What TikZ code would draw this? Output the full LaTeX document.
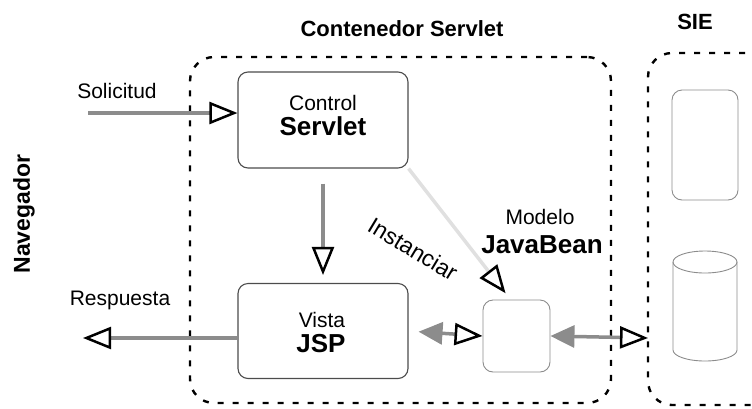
\documentclass[tikz,border=0pt]{standalone}
\usepackage{fontspec}
\setmainfont{Liberation Sans}
\usetikzlibrary{arrows.meta}
\tikzstyle{caja} = [draw=black!70, line width=1.1pt, rounded corners=10pt, inner sep=0pt]
\tikzstyle{tenue} = [draw=black!45, line width=0.9pt, inner sep=0pt]
\tikzstyle{contenedor} = [draw, line width=2.4pt, dash pattern=on 6pt off 9pt, rounded corners=24pt]
\tikzstyle{flecha} = [draw=black!45, line width=3.5pt, -{Triangle[open, length=28pt, width=22pt, line width=2.5pt, color=black]}]
\tikzstyle{doble} = [draw=black!45, line width=3.5pt, {Triangle[length=24pt, width=22pt]}-{Triangle[open, length=28pt, width=22pt, line width=2.5pt, color=black]}]
\tikzstyle{texto} = [font=\fontsize{21}{24}\selectfont, anchor=base, inner sep=0pt]
\tikzstyle{titulo} = [font=\fontsize{22}{26}\selectfont\bfseries, inner sep=0pt]
\tikzstyle{grande} = [font=\fontsize{26}{30}\selectfont\bfseries, anchor=base, inner sep=0pt]

\begin{document}
\begin{tikzpicture}[x=1pt, y=-1pt]
    \useasboundingbox (0,0) rectangle (752,408);

    % contenedor y cajas
    \node[contenedor, minimum width=421pt, minimum height=346pt] (cont) at (400.5,230) {};
    \draw[contenedor] (775,53) -- (648,53) -- (648,405) -- (775,405);

    \node[caja, minimum width=170pt, minimum height=96pt] (ctrl) at (323,120) {};
    \node[caja, minimum width=170pt, minimum height=95pt] (vista) at (323,331) {};
    \node[tenue, rounded corners=10pt, minimum width=67pt, minimum height=72pt] (bean) at (516.5,336) {};
    \node[tenue, rounded corners=10pt, minimum width=66pt, minimum height=110pt] (serv) at (705,145) {};

    % base de datos
    \draw[tenue] (705,262) ellipse (32 and 11);
    \draw[tenue] (673,262) -- (673,350) arc (180:0:32 and 11) -- (737,262);

    \coordinate (nav1) at (88,113);
    \coordinate (nav2) at (83,338);
    \coordinate (sie) at (648,338);

    % textos
    \node[titulo] (tcont) at (402,29) {Contenedor Servlet};
    \node[titulo] (tsie) at (695,22) {SIE};
    \node[titulo, rotate=90, font=\fontsize{23}{26}\selectfont\bfseries] (nav) at (24,214) {Navegador};
    \foreach \pos/\name/\txt in {{(117,98)/sol/Solicitud},{(120,305)/resp/Respuesta},{(323,110)/tctrl/Control},{(322,327)/tvista/Vista},{(540,224)/tmod/Modelo}}
        \node[texto] (\name) at \pos {\txt};
    \foreach \pos/\name/\txt in {{(323,135)/tserv/Servlet},{(321,352)/tjsp/JSP},{(542,253)/tbean/JavaBean}}
        \node[grande] (\name) at \pos {\txt};
    \node[texto, anchor=center, rotate=-31, font=\fontsize{23}{26}\selectfont] (inst) at (413,249) {Instanciar};

    % flechas
    \path[flecha] (nav1) -- (nav1 -| ctrl.west);
    \path[flecha] (vista.west |- nav2) -- (nav2);
    \path[flecha, shorten <=15pt, shorten >=8pt] (ctrl.south) -- (vista.north);
    \path[flecha, draw=black!12, shorten >=8pt] (ctrl.south east) -- ([xshift=-6pt]bean.north);
    \path[doble, shorten <=10pt] (vista.east) -- (bean.west);
    \path[doble] (bean.east) -- (sie);

\end{tikzpicture}
\end{document}
